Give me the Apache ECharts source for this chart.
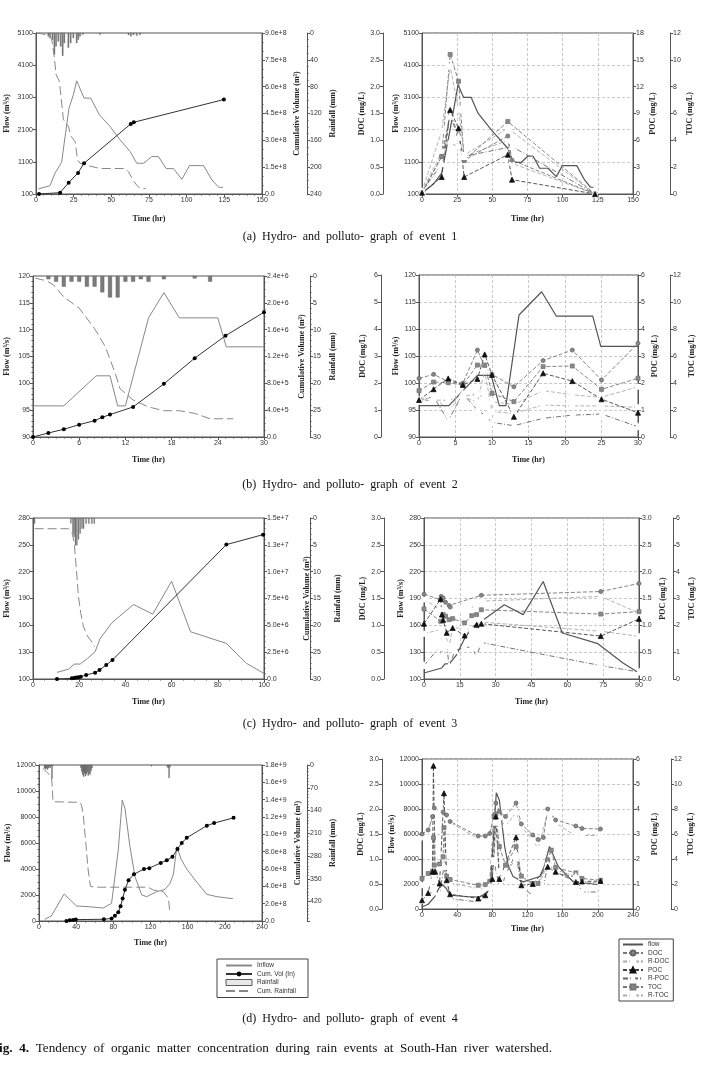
<!DOCTYPE html>
<html><head><meta charset="utf-8">
<script src="https://cdn.jsdelivr.net/npm/echarts@6/dist/echarts.min.js"></script>
<style>html,body{margin:0;padding:0;background:#fff}#c{width:702px;height:1066px}</style>
</head><body><div id="c"></div>
<script>
// ================= DATA =================
// ---- (a) event 1, hydrograph ----
const a_inflow = [[1.6,256],[9.3,359],[12.6,743],[17,1085],[19.3,1884],[21.9,2766],[24.8,3181],[27,3617],[31.9,3077],[36.3,3077],[42.1,2558],[49.2,2195],[55.8,1780],[62.5,1417],[66.9,1054],[71.4,1054],[76.9,1262],[81.3,1262],[86.4,888],[91.3,888],[96.8,556],[101.9,982],[111.2,982],[116.8,536],[121.2,307],[124.1,307]];
const a_cumvol = [[2,0],[16,7.5e6],[21.7,6.35e7],[27.9,1.18e8],[31.9,1.72e8],[62.9,3.92e8],[64.9,4.01e8],[124.7,5.28e8]];
const a_rain = [[8.2,5],[9.3,7.5],[10.9,10],[12.2,32],[13.3,20],[14.8,12.5],[16.4,20],[17.7,34],[18.8,15],[21.5,22],[23,15],[24.8,7.5],[27,15],[28.1,10],[29.2,5],[31,2.5],[42.5,2.5],[61.4,3],[63,5],[64.7,3],[66.9,4],[69,3]];
const a_cumrain = [[0.4,0],[7,2.5],[10.4,9],[12.2,37],[13.3,62],[15.5,72],[18.2,129],[21.5,139],[23.3,154],[26,162],[27.5,189],[29.2,194],[33.2,197],[42.5,202],[59.2,202],[61.4,207],[64.3,219],[66.9,227],[69.1,232],[72.9,232]];
// ---- (a) event 1, pollutograph ----
const ar_flow = [[0,130],[8,400],[14,750],[20,2100],[25.6,3490],[29.6,3100],[35,3100],[39.8,2610],[50,2050],[61,1520],[64.7,1085],[70.6,1085],[75.4,1280],[78.9,1280],[83.6,900],[89.6,900],[95.5,640],[99.8,980],[110,980],[115.6,535],[119.7,310],[122,310]];
const ar_t    = [0,14,20,26,30,61,64,123];
const ar_doc  = [0.02,0.7,1.5,1.1,0.63,1.08,0.63,0];
const ar_rdoc = [0.04,0.79,0.95,0.88,0.7,1.0,0.57,0];
const ar_poc  = [0.15,1.9,9.4,7.35,1.9,4.4,1.6,0];
const ar_rpoc = [0.26,3.4,8.7,6.4,4.2,null,5.3,0];
const ar_toc  = [0.1,2.8,10.4,8.4,2.5,5.4,null,0];
const ar_rtoc = [0.17,4.7,9.5,6.3,2.9,4.9,null,0];

// ---- (b) event 2, hydrograph ----
const b_inflow = [[0,95.8],[4,95.8],[8.2,101.4],[10,101.4],[11,95.8],[12,95.8],[15,112.2],[17,116.9],[19,112.2],[24,112.2],[25.1,106.8],[30,106.8]];
const b_cumvol = [[0,0],[2,6e4],[4,1.15e5],[6,1.84e5],[8,2.44e5],[9,2.94e5],[10,3.34e5],[13,4.48e5],[17,7.92e5],[21,1.175e6],[25,1.51e6],[30,1.86e6]];
const b_rain = [[2,0.6],[3,1.06],[4,2],[5,1.06],[6,1.06],[7,2],[8,2],[9,3.05],[10,4],[11,4],[12,1.06],[13,1.06],[14,0.6],[15,1.06],[17,0.6],[21,0.45],[23,1.06]];
const b_cumrain = [[0.3,0.4],[1.8,0.9],[2.7,1.7],[4,3.9],[6,6],[8,9.8],[9.4,13.2],[10.7,18.2],[11.3,21],[13,23.1],[15,24.4],[17,25.1],[19,25.1],[21,25.6],[23,26.6],[26,26.6]];
// ---- (b) event 2, pollutograph ----
const br_flow = [[0,95.8],[4.1,95.8],[8,101.4],[9.9,101.4],[11,95.8],[11.9,95.8],[13.7,112.6],[16.8,116.9],[18.8,112.4],[23.8,112.4],[24.9,106.8],[30,106.8]];
const br_t    = [0,2,4,6,8,9,10,13,17,21,25,30];
const br_doc  = [2.17,2.32,2.05,1.99,3.22,2.6,2.32,1.86,2.83,3.22,2.11,3.47];
const br_rdoc = [1.33,1.37,1.36,1.52,1.58,1.45,1.31,1.2,1.72,1.56,1.47,1.86];
const br_poc  = [1.37,1.77,2.17,1.93,2.15,3.06,2.3,0.75,2.36,2.07,1.4,0.9];
const br_rpoc = [1.37,1.49,0.6,1.6,1.0,0.81,0.54,0.42,0.69,0.81,0.85,0.38];
const br_toc  = [3.43,4.07,4.02,3.85,5.33,5.33,3.23,2.62,5.21,5.26,3.53,4.35];
const br_rtoc = [2.62,2.99,2.0,3.0,2.57,4.9,1.88,1.75,2.37,2.3,2.3,2.2];

// ---- (c) event 3, hydrograph ----
const c_inflow = [[10.4,107.4],[15.4,111],[17.8,116.7],[20.4,116.7],[23.6,123],[26.9,130.5],[29,145],[34.1,162.8],[43.5,183.3],[51.8,172.5],[60,209.3],[68.2,152.8],[83.7,139.8],[92.4,117.5],[100,106.3]];
const c_cumvol = [[10.4,0],[16.8,6e4],[17.8,1e5],[18.7,1.3e5],[19.7,1.6e5],[20.7,2.2e5],[23,3.7e5],[26.9,5.9e5],[28.8,8.4e5],[31.7,1.3e6],[34.4,1.77e6],[83.7,1.252e7],[99.6,1.345e7]];
const c_rain = [[0.7,1.05],[16.4,1.0],[17.3,2.9],[17.8,3.5],[18.4,5.1],[19,5.1],[19.7,4.0],[20.4,2.9],[21.2,2.0],[21.9,2.0],[23,1.05],[24.2,1.05],[25.5,1.05],[26.5,1.05]];
const c_cumrain = [[0.7,2.0],[15.4,2.0],[16.8,2.6],[17.8,4.5],[18.7,9.1],[19.7,14.7],[20.7,17.8],[21.9,20.3],[23.6,22.0],[25.5,23.1],[26.6,24.0]];
// ---- (c) event 3, pollutograph ----
const cr_flow = [[0,106.7],[7.4,112.3],[8.8,117],[10.6,117],[13.6,127],[17.1,145.8],[20.6,159],[24.8,166],[33.6,183],[41.5,172],[49.9,209],[57.9,151.4],[72.8,139.5],[83.3,117.9],[90,106.7]];
const cr_doc  = [[0,1.58],[6.8,1.48],[7.2,1.54],[8,1.51],[9,1.43],[10.5,1.37],[11,1.34],[24,1.56],[74,1.63],[90,1.78]];
const cr_rdoc = [[0,1.48],[7,1.29],[9,1.4],[11,1.32],[13,1.32],[15,1.32],[17,1.32],[19,1.33],[22,1.35],[24,1.45],[74,1.54],[90,1.23]];
const cr_poc  = [[0,1.03],[7,1.49],[7.5,1.2],[8,1.1],[9.5,0.86],[12,0.95],[17,0.81],[22,1.01],[24,1.03],[74,0.8],[90,1.12]];
const cr_rpoc = [[0,0.25],[6.8,0.61],[7.2,0.42],[8,0.58],[9.5,0.65],[10.5,0.24],[13,0.53],[17,0.59],[20,0.59],[22,0.42],[24,0.68],[74,0.25],[90,0.13]];
const cr_toc  = [[0,2.61],[7,2.15],[8,2.4],[9,2.34],[10.5,2.21],[12,2.25],[17,2.09],[20,2.36],[22,2.4],[24,2.58],[74,2.42],[90,2.51]];
const cr_rtoc = [[0,1.69],[7,1.84],[8,1.61],[9,1.65],[10.5,1.22],[12,1.9],[17,1.9],[20,1.84],[22,1.75],[24,2.12],[74,1.78],[90,1.59]];

// ---- (d) event 4, hydrograph ----
const d_inflow = [[6.1,128],[13.3,385],[27,2077],[40.3,1154],[52.9,1103],[69.1,1000],[78.1,1359],[85.3,5461],[89.6,9308],[92.5,8667],[97.9,5718],[103.3,3410],[110.5,2000],[115.9,1872],[126.7,2256],[135.7,2436],[141,2897],[144.7,3615],[148.3,5718],[153,4743],[159,4000],[168,3154],[180.6,2051],[191.4,1872],[208.7,1718]];
const d_cumvol = [[29.5,0],[33.1,8e6],[36.7,1.2e7],[39.6,1.6e7],[69.8,2e7],[78.1,3e7],[81.7,6e7],[85.3,1e8],[87.8,1.7e8],[90,2.6e8],[92.5,3.6e8],[96.4,4.7e8],[102.2,5.4e8],[113,6e8],[118.7,6.1e8],[131,6.7e8],[137.5,7e8],[143.6,7.4e8],[149,8.3e8],[153.6,9e8],[159,9.6e8],[180.6,1.1e9],[188.5,1.13e9],[209.4,1.19e9]];
const d_rain = [[6,10],[7,13],[8,8],[9,14],[10,10],[11,6],[12,9],[13,4],[14,41],[15,3],[45,8],[46,20],[47,30],[48,36],[49,25],[50,34],[51,28],[52,22],[53,33],[54,26],[55,30],[56,18],[57,10],[121,4],[138,5],[139,10],[140,40],[141,6]];
const d_cumrain = [[4.3,10],[9.7,26],[13.3,34],[14,56],[15.1,113],[17,115],[43.9,115],[45.7,123],[47.5,149],[50.4,241],[52.9,323],[55.4,374],[61.9,376],[117.7,376],[123,385],[133.9,390],[139.3,410],[141,456]];
// ---- (d) event 4, pollutograph ----
const dr_flow = [[0,160],[7,380],[14,950],[22,2000],[27,1700],[32,1100],[50,1000],[65,950],[74,1300],[78,2000],[84.5,9300],[88,8700],[94,5000],[98,3500],[103.5,2600],[115,2170],[134,2600],[139,3400],[145,5000],[155,3400],[172,2170],[191,2040],[204,1900]];
const dr_doc  = [[0,1.5],[7,1.58],[12,1.85],[14,2.02],[24,1.94],[28,1.88],[32,1.75],[64,1.46],[72,1.46],[77,1.51],[82,1.88],[84,2.12],[88,1.95],[95,1.85],[107,2.12],[113,1.7],[126,1.48],[132,1.39],[138,1.43],[143,2.0],[152,1.78],[175,1.66],[182,1.61],[203,1.6]];
const dr_rdoc = [[0,1.43],[7,1.55],[14,1.95],[21,2.0],[28,1.82],[32,1.73],[64,1.41],[72,1.35],[77,1.38],[82,1.85],[88,1.82],[95,1.65],[107,1.93],[113,1.65],[126,1.38],[132,1.21],[143,1.93],[147,1.92],[152,1.72],[175,1.46],[182,1.47],[203,1.47]];
const dr_poc  = [[0,0.35],[7,0.64],[12,1.49],[13,5.73],[15,1.49],[20,1.02],[25,4.63],[28,1.15],[32,0.59],[64,0.42],[72,0.55],[80,1.2],[84,3.7],[88,1.2],[107,2.87],[113,0.95],[126,1.0],[143,1.69],[152,1.49],[175,1.08],[182,1.1],[203,1.12]];
const dr_rpoc = [[0,0.35],[7,0.6],[14,0.68],[20,0.6],[25,1.7],[32,0.42],[64,0.28],[72,0.48],[77,0.88],[82,1.9],[88,0.88],[91,0.88],[95,1.4],[107,2.2],[113,0.88],[126,0.55],[132,0.68],[138,0.88],[143,1.75],[152,1.42],[175,1.29],[182,0.68],[203,0.68]];
const dr_toc  = [[0,2.44],[7,2.84],[12,3.03],[13,5.7],[14,3.51],[20,3.6],[24,4.18],[25,6.5],[28,2.63],[32,2.36],[64,1.9],[72,1.95],[77,2.2],[82,7.39],[84,7.6],[88,5.0],[95,3.5],[107,4.98],[113,2.63],[126,2.04],[132,2.04],[143,3.91],[147,4.71],[152,3.32],[175,2.89],[182,2.44],[203,2.3]];
const dr_rtoc = [[0,1.9],[7,2.17],[14,2.7],[20,3.38],[24,4.23],[28,2.3],[32,2.09],[64,1.63],[72,1.7],[77,2.0],[82,3.91],[84,6.9],[88,2.97],[95,2.84],[107,4.04],[113,2.57],[126,1.9],[132,1.9],[143,3.51],[152,3.11],[175,2.63],[182,2.17],[203,2.09]];

// tick label sets for axes whose min is not a multiple of the step
const flowTicksA = [100,1100,2100,3100,4100,5100];
const flowTicksC = [100,130,160,190,220,250,280];

// ================= CHART =================
const SANS = 'Liberation Sans', SERIF = 'Liberation Serif';
const AX = '#555', TXT = '#333';
const NAME = {fontFamily: SERIF, fontWeight: 'bold', fontSize: 8, color: '#222'};
const grids = [], xAxes = [], yAxes = [], series = [];

const sci = v => v === 0 ? '0.0' : v.toExponential(1);
const f1 = v => v.toFixed(1);
const plain = v => String(v);
const zip = (t, v) => t.map((x, i) => [x, v[i]]).filter(p => p[1] != null);

function axis(o) {
  const a = {
    type: 'value', gridIndex: o.g, min: o.min, max: o.max,
    axisLine: {show: true, onZero: false, lineStyle: {color: AX, width: 1}},
    axisTick: {show: true, length: 3, lineStyle: {color: AX}},
    minorTick: {show: !!o.minor, splitNumber: o.minor || 5, length: 1.5, lineStyle: {color: AX}},
    axisLabel: {fontSize: 7, fontFamily: SANS, color: TXT, margin: 3, formatter: o.fmt || plain},
    splitLine: {show: !!o.split, lineStyle: {color: '#bbb', type: [3, 2], width: 0.8}},
    nameLocation: 'middle', nameTextStyle: NAME
  };
  if (o.pos) a.position = o.pos;
  if (o.off) a.offset = o.off;
  if (o.inv) a.inverse = true;
  if (o.interval != null) a.interval = o.interval;
  if (o.name) { a.name = o.name; a.nameGap = o.gap; }
  if (o.custom) { a.axisLabel.customValues = o.custom; a.axisTick.customValues = o.custom; }
  return a;
}

function leftPanel(p) {
  const g = grids.length;
  grids.push({left: p.l, top: p.t, width: p.r - p.l, height: p.b - p.t, show: true, borderColor: AX, borderWidth: 1});
  const xi = xAxes.length;
  xAxes.push(axis({g, min: 0, max: p.xmax, interval: p.xint, minor: p.xminor, name: 'Time (hr)', gap: p.xgap}));
  const yF = yAxes.length;
  yAxes.push(axis(Object.assign({g, pos: 'left', name: 'Flow (m³/s)', gap: p.fgap}, p.flow)));
  const yC = yAxes.length;
  yAxes.push(axis({g, pos: 'right', min: 0, max: p.cmax, interval: p.cint, minor: p.cminor, fmt: sci, name: 'Cumulative Volume (m³)', gap: p.cgap}));
  const yR = yAxes.length;
  yAxes.push(axis({g, pos: 'right', off: p.roff, inv: true, min: 0, max: p.rmax, interval: p.rint, minor: p.rminor, fmt: p.rfmt, name: 'Rainfall (mm)', gap: p.rgap}));
  series.push({type: 'bar', name: 'Rainfall', xAxisIndex: xi, yAxisIndex: yR, data: p.rain, barWidth: p.bw,
    itemStyle: {color: '#7a7a7a', borderColor: '#555', borderWidth: 0.3}, z: 2});
  series.push({type: 'line', name: 'Cum. Rainfall', xAxisIndex: xi, yAxisIndex: yR, data: p.cumrain, symbol: 'none',
    lineStyle: {color: '#888', width: 1, type: [9, 4]}, itemStyle: {color: '#888'}, z: 3});
  series.push({type: 'line', name: 'Inflow', xAxisIndex: xi, yAxisIndex: yF, data: p.inflow, symbol: 'none',
    lineStyle: {color: '#888', width: 1}, itemStyle: {color: '#888'}, z: 4});
  series.push({type: 'line', name: 'Cum. Vol (In)', xAxisIndex: xi, yAxisIndex: yC, data: p.cumvol, symbol: 'circle', symbolSize: 4,
    lineStyle: {color: '#333', width: 1}, itemStyle: {color: '#000'}, z: 5});
}

const STY = {
  'DOC':   {sym: 'circle',        size: 4, line: '#777', dash: [4, 2], fill: '#888', border: '#666'},
  'R-DOC': {sym: 'emptyCircle',   size: 4, line: '#aaa', dash: [4, 2], fill: '#fff', border: '#888'},
  'POC':   {sym: 'triangle',      size: 5, line: '#444', dash: [4, 2], fill: '#111', border: '#111'},
  'R-POC': {sym: 'emptyTriangle', size: 5, line: '#666', dash: [5, 2, 1, 2], fill: '#fff', border: '#777'},
  'TOC':   {sym: 'rect',          size: 4, line: '#777', dash: [4, 2], fill: '#888', border: '#777'},
  'R-TOC': {sym: 'emptyRect',     size: 4, line: '#aaa', dash: [4, 2], fill: '#fff', border: '#999'}
};

function rightPanel(p) {
  const g = grids.length;
  grids.push({left: p.l, top: p.t, width: p.r - p.l, height: p.b - p.t, show: true, borderColor: AX, borderWidth: 1});
  const xi = xAxes.length;
  xAxes.push(axis({g, min: 0, max: p.xmax, interval: p.xint, split: true, name: 'Time (hr)', gap: p.xgap}));
  const yF = yAxes.length;
  yAxes.push(axis(Object.assign({g, pos: 'left', split: true, name: 'Flow (m³/s)', gap: p.fgap}, p.flow)));
  const yD = yAxes.length;
  yAxes.push(axis({g, pos: 'left', off: p.doff, min: 0, max: p.dmax, interval: p.dint, fmt: p.dfmt, name: 'DOC (mg/L)', gap: p.dgap}));
  const yP = yAxes.length;
  yAxes.push(axis({g, pos: 'right', min: 0, max: p.pmax, interval: p.pint, fmt: p.pfmt, name: 'POC (mg/L)', gap: p.pgap}));
  const yT = yAxes.length;
  yAxes.push(axis({g, pos: 'right', off: p.toff, min: 0, max: p.tmax, interval: p.tint, name: 'TOC (mg/L)', gap: p.tgap}));
  series.push({type: 'line', name: 'flow', xAxisIndex: xi, yAxisIndex: yF, data: p.flowData, symbol: 'none',
    lineStyle: {color: '#555', width: 1.2}, itemStyle: {color: '#555'}, z: 3});
  const add = (name, yi, data) => {
    const s = STY[name];
    series.push({type: 'line', name, xAxisIndex: xi, yAxisIndex: yi, data, symbol: s.sym, symbolSize: s.size,
      lineStyle: {color: s.line, width: 0.9, type: s.dash},
      itemStyle: {color: s.fill, borderColor: s.border, borderWidth: 0.8}, z: 4});
  };
  add('R-DOC', yD, p.rdoc); add('DOC', yD, p.doc);
  add('R-TOC', yT, p.rtoc); add('TOC', yT, p.toc);
  add('R-POC', yP, p.rpoc); add('POC', yP, p.poc);
}

// (a)
leftPanel({l: 36, r: 262, t: 33, b: 194, xmax: 150, xint: 25, xminor: 5, xgap: 21,
  flow: {min: 100, max: 5100, interval: 1000, custom: flowTicksA}, fgap: 25,
  cmax: 9e8, cint: 1.5e8, cminor: 3, cgap: 31,
  roff: 45, rmax: 240, rint: 40, rminor: 4, rgap: 22, bw: 1.5,
  inflow: a_inflow, cumvol: a_cumvol, rain: a_rain, cumrain: a_cumrain});
rightPanel({l: 422, r: 633, t: 33, b: 194, xmax: 150, xint: 25, xgap: 21,
  flow: {min: 100, max: 5100, interval: 1000, custom: flowTicksA}, fgap: 21,
  doff: 39, dmax: 3, dint: 0.5, dfmt: f1, dgap: 16,
  pmax: 18, pint: 3, pgap: 16, toff: 37, tmax: 12, tint: 2, tgap: 16,
  flowData: ar_flow, doc: zip(ar_t, ar_doc), rdoc: zip(ar_t, ar_rdoc), poc: zip(ar_t, ar_poc),
  rpoc: zip(ar_t, ar_rpoc), toc: zip(ar_t, ar_toc), rtoc: zip(ar_t, ar_rtoc)});
// (b)
leftPanel({l: 33, r: 264, t: 276, b: 437, xmax: 30, xint: 6, xminor: 6, xgap: 19,
  flow: {min: 90, max: 120, interval: 5, minor: 5}, fgap: 22,
  cmax: 2.4e6, cint: 4e5, cminor: 4, cgap: 34,
  roff: 46, rmax: 30, rint: 5, rminor: 5, rgap: 19, bw: 4,
  inflow: b_inflow, cumvol: b_cumvol, rain: b_rain, cumrain: b_cumrain});
rightPanel({l: 419, r: 638, t: 275, b: 437, xmax: 30, xint: 5, xgap: 19,
  flow: {min: 90, max: 120, interval: 5}, fgap: 18,
  doff: 38, dmax: 6, dint: 1, dgap: 14,
  pmax: 6, pint: 1, pgap: 13, toff: 32, tmax: 12, tint: 2, tgap: 18,
  flowData: br_flow, doc: zip(br_t, br_doc), rdoc: zip(br_t, br_rdoc), poc: zip(br_t, br_poc),
  rpoc: zip(br_t, br_rpoc), toc: zip(br_t, br_toc), rtoc: zip(br_t, br_rtoc)});
// (c)
leftPanel({l: 33, r: 264, t: 518, b: 679, xmax: 100, xint: 20, xminor: 4, xgap: 19,
  flow: {min: 100, max: 280, interval: 30, custom: flowTicksC}, fgap: 22,
  cmax: 1.5e7, cint: 2.5e6, cminor: 5, cgap: 39,
  roff: 46, rmax: 30, rint: 5, rminor: 5, rgap: 24, bw: 1.2,
  inflow: c_inflow, cumvol: c_cumvol, rain: c_rain, cumrain: c_cumrain});
rightPanel({l: 424, r: 639, t: 518, b: 679, xmax: 90, xint: 15, xgap: 19,
  flow: {min: 100, max: 280, interval: 30, custom: flowTicksC}, fgap: 18,
  doff: 40, dmax: 3, dint: 0.5, dfmt: f1, dgap: 17,
  pmax: 3, pint: 0.5, pfmt: f1, pgap: 20, toff: 34, tmax: 6, tint: 1, tgap: 15,
  flowData: cr_flow, doc: cr_doc, rdoc: cr_rdoc, poc: cr_poc, rpoc: cr_rpoc, toc: cr_toc, rtoc: cr_rtoc});
// (d)
leftPanel({l: 39, r: 262, t: 765, b: 921, xmax: 240, xint: 40, xminor: 4, xgap: 18,
  flow: {min: 0, max: 12000, interval: 2000, minor: 4}, fgap: 27,
  cmax: 1.8e9, cint: 2e8, cminor: 2, cgap: 32,
  roff: 45, rmax: 480, rint: 70, rminor: 7, rfmt: v => v > 450 ? '' : String(v), rgap: 22, bw: 1.3,
  inflow: d_inflow, cumvol: d_cumvol, rain: d_rain, cumrain: d_cumrain});
rightPanel({l: 422, r: 633, t: 759, b: 909, xmax: 240, xint: 40, xgap: 16,
  flow: {min: 0, max: 12000, interval: 2000}, fgap: 25,
  doff: 40, dmax: 3, dint: 0.5, dfmt: f1, dgap: 16,
  pmax: 6, pint: 1, pgap: 18, toff: 38, tmax: 12, tint: 2, tgap: 16,
  flowData: dr_flow, doc: dr_doc, rdoc: dr_rdoc, poc: dr_poc, rpoc: dr_rpoc, toc: dr_toc, rtoc: dr_rtoc});

const LEG = {orient: 'vertical', selectedMode: false, borderColor: '#444', borderWidth: 1, backgroundColor: '#fff',
  textStyle: {fontSize: 6.5, fontFamily: SANS, color: TXT}, itemHeight: 6, itemGap: 1.5};
const noDot = name => ({name, itemStyle: {opacity: 0}});

const capStyle = (text, x, y) => ({type: 'text', x, y, silent: true,
  style: {text, fontSize: 12, fontFamily: SERIF, fill: '#111', align: 'center', verticalAlign: 'middle'}});

const option = {
  animation: false,
  backgroundColor: '#fff',
  grid: grids, xAxis: xAxes, yAxis: yAxes, series,
  legend: [
    Object.assign({}, LEG, {left: 217, top: 959, itemWidth: 26, padding: [3, 12, 3, 8],
      data: [noDot('Inflow'), 'Cum. Vol (In)',
        {name: 'Rainfall', icon: 'rect', itemStyle: {color: '#e8e8e8', borderColor: '#333', borderWidth: 0.8}},
        noDot('Cum. Rainfall')]}),
    Object.assign({}, LEG, {left: 619, top: 939, itemWidth: 20, padding: [2, 4, 2, 3],
      data: [noDot('flow'), 'DOC', 'R-DOC', 'POC', 'R-POC', 'TOC', 'R-TOC']})
  ],
  graphic: [
    capStyle('(a)  Hydro-  and  polluto-  graph  of  event  1', 350, 237),
    capStyle('(b)  Hydro-  and  polluto-  graph  of  event  2', 350, 485),
    capStyle('(c)  Hydro-  and  polluto-  graph  of  event  3', 350, 724),
    capStyle('(d)  Hydro-  and  polluto-  graph  of  event  4', 350, 1019),
    {type: 'text', x: 552, y: 1049, silent: true,
      style: {text: '{b|Fig.  4.}  Tendency  of  organic  matter  concentration  during  rain  events  at  South-Han  river  watershed.',
        fontSize: 13.2, fontFamily: SERIF, fill: '#111', align: 'right', verticalAlign: 'middle',
        rich: {b: {fontWeight: 'bold', fontSize: 13.2, fontFamily: SERIF, fill: '#111'}}}}
  ]
};

const chart = echarts.init(document.getElementById('c'), null, {renderer: 'canvas'});
chart.setOption(option);
</script>
</body></html>
